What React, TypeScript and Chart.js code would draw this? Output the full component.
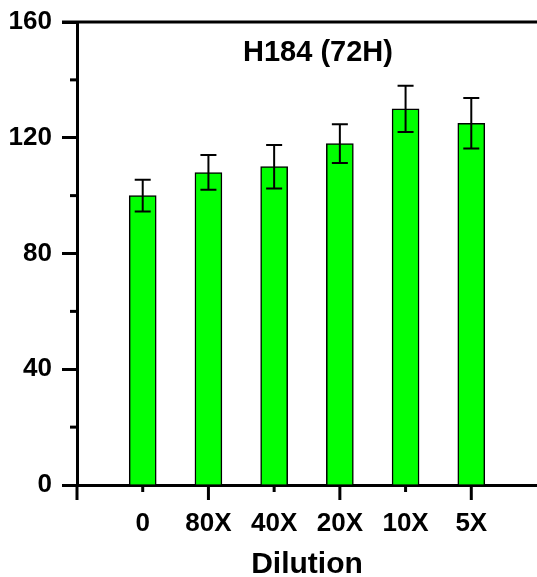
import React, { useEffect, useRef } from "react";
import { Chart, registerables } from "chart.js";

Chart.register(...registerables);

const dilutions = ["0", "80X", "40X", "20X", "10X", "5X"];
const meanValues = [100, 108, 110, 118, 130, 125];
const errorValues = [5.5, 6, 7.5, 6.7, 8, 8.7];
const yMajorTicks = [0, 40, 80, 120, 160];
const yMinorTicks = [20, 60, 100, 140];
const chartTitle = "H184 (72H)";
const xAxisTitle = "Dilution";

const FONT = "'Liberation Sans', Arial, sans-serif";

const framePlugin = {
  id: "framePlugin",
  afterDatasetsDraw(chart: any) {
    const { ctx, chartArea, scales } = chart;
    const xs = scales.x;
    const ys = scales.y;
    ctx.save();
    ctx.strokeStyle = "#000";
    const meta = chart.getDatasetMeta(0);
    meta.data.forEach((bar: any, i: number) => {
      const x = bar.x;
      const top = ys.getPixelForValue(meanValues[i] + errorValues[i]);
      const bot = ys.getPixelForValue(meanValues[i] - errorValues[i]);
      ctx.lineWidth = 2;
      ctx.beginPath();
      ctx.moveTo(x, top);
      ctx.lineTo(x, bot);
      ctx.stroke();
      ctx.beginPath();
      ctx.moveTo(x - 8, top);
      ctx.lineTo(x + 8, top);
      ctx.moveTo(x - 8, bot);
      ctx.lineTo(x + 8, bot);
      ctx.stroke();
    });
    ctx.lineWidth = 3;
    const yTop = ys.getPixelForValue(160);
    ctx.beginPath();
    ctx.moveTo(chartArea.left - 15, yTop);
    ctx.lineTo(chart.width, yTop);
    ctx.stroke();
    yMinorTicks.forEach((v) => {
      const y = ys.getPixelForValue(v);
      ctx.beginPath();
      ctx.moveTo(chartArea.left - 7, y);
      ctx.lineTo(chartArea.left, y);
      ctx.stroke();
    });
    for (let i = 0; i <= dilutions.length; i++) {
      const x = xs.getPixelForValue(i);
      const len = i % 2 === 0 ? 15 : 7;
      ctx.beginPath();
      ctx.moveTo(x, chartArea.bottom);
      ctx.lineTo(x, chartArea.bottom + len);
      ctx.stroke();
    }
    ctx.fillStyle = "#000";
    ctx.font = `bold 29px ${FONT}`;
    ctx.textAlign = "center";
    ctx.textBaseline = "alphabetic";
    ctx.fillText(chartTitle, 318, 61);
    ctx.restore();
  },
};

export default function App() {
  const ref = useRef<HTMLCanvasElement | null>(null);
  useEffect(() => {
    document.body.style.margin = "0";
    const canvas = ref.current!;
    const chart = new Chart(canvas, {
      type: "bar",
      data: {
        datasets: [
          {
            data: meanValues.map((v, i) => ({ x: i + 1, y: v })),
            backgroundColor: "#00ff00",
            borderColor: "#000",
            borderWidth: 1.5,
            barThickness: 27,
          },
        ],
      },
      options: {
        animation: false,
        responsive: false,
        maintainAspectRatio: false,
        layout: { padding: { top: 22, right: 0, left: 0, bottom: 0 } },
        plugins: {
          legend: { display: false },
          tooltip: { enabled: false },
          title: { display: false },
        },
        scales: {
          x: {
            type: "linear",
            offset: false,
            min: 0,
            max: 7,
            afterFit: (s: any) => {
              s.height = 92;
              s.paddingLeft = 0;
              s.paddingRight = 0;
            },
            afterBuildTicks: (s: any) => {
              s.ticks = [0, 1, 2, 3, 4, 5, 6, 7].map((v) => ({ value: v }));
            },
            grid: { display: true, drawOnChartArea: false, drawTicks: false },
            border: { display: true, color: "#000", width: 3 },
            ticks: {
              autoSkip: false,
              maxRotation: 0,
              padding: 23,
              color: "#000",
              font: { family: FONT, size: 26, weight: "bold" },
              callback: (v: any) => dilutions[Number(v) - 1] ?? "",
            },
            title: {
              display: true,
              text: xAxisTitle,
              color: "#000",
              font: { family: FONT, size: 30, weight: "bold", lineHeight: 0.8 },
              padding: { top: 0, bottom: 0 },
            },
          },
          y: {
            min: 0,
            max: 160,
            afterFit: (s: any) => {
              s.width = 77;
              s.paddingTop = 0;
              s.paddingBottom = 0;
            },
            afterBuildTicks: (s: any) => {
              s.ticks = yMajorTicks.map((v) => ({ value: v }));
            },
            grid: {
              display: true,
              drawOnChartArea: false,
              drawTicks: true,
              tickLength: 15,
              tickWidth: 3,
              tickColor: "#000",
            },
            border: { display: true, color: "#000", width: 3 },
            ticks: {
              padding: 10,
              color: "#000",
              font: { family: FONT, size: 26, weight: "bold" },
            },
          },
        },
      },
      plugins: [framePlugin],
    } as any);
    return () => chart.destroy();
  }, []);
  return (
    <div style={{ width: 537, height: 577 }}>
      <canvas ref={ref} width={537} height={577} style={{ display: "block" }} />
    </div>
  );
}
